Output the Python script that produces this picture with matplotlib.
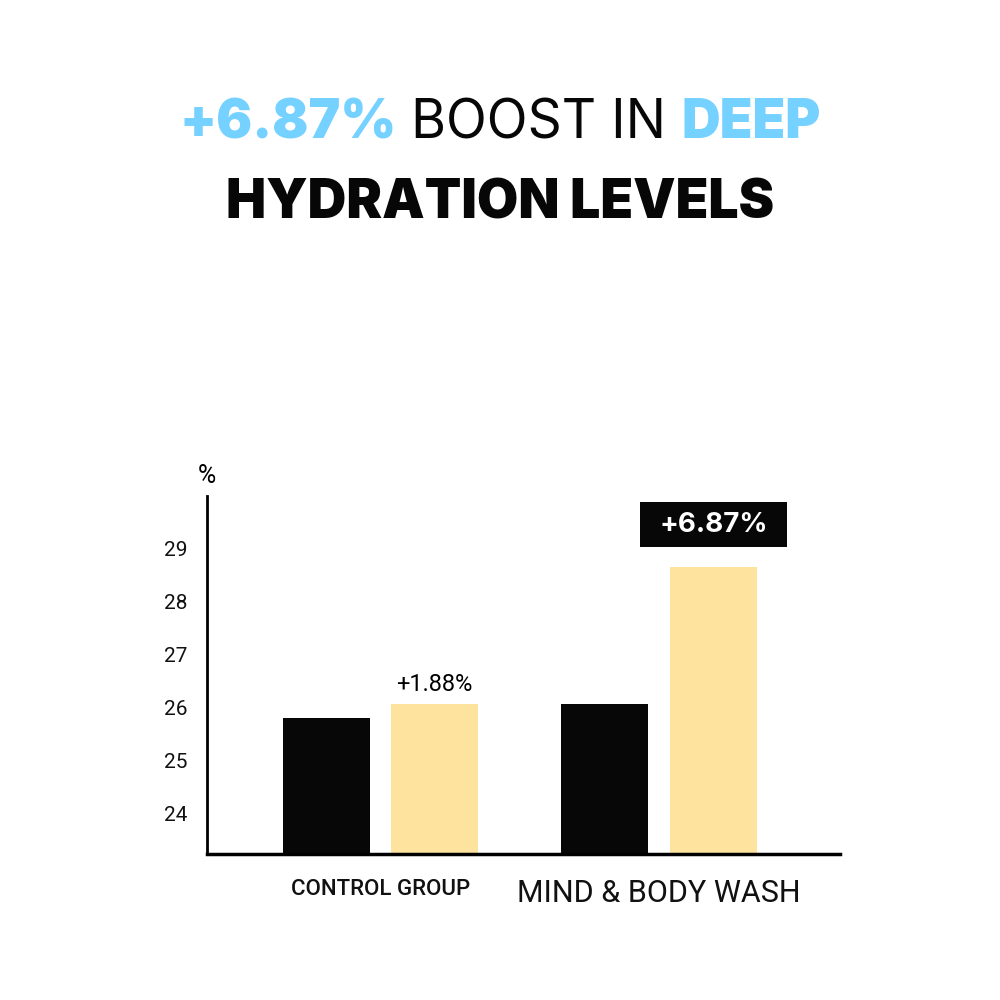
import matplotlib
matplotlib.use("Agg")
import matplotlib.pyplot as plt
from matplotlib.patches import Rectangle
import numpy as np

plt.rcParams["font.family"] = ["Roboto", "DejaVu Sans"]
TITLE_FONT = ["Inter", "Roboto", "DejaVu Sans"]

groups = ["CONTROL GROUP", "MIND & BODY WASH"]
before = [25.8, 26.06]
after = [26.06, 28.66]
labels = ["+1.88%", "+6.87%"]
yticks = [24, 25, 26, 27, 28, 29]

BLACK = "#070707"
YELLOW = "#FDE39D"
BLUE = "#75D1FF"

fig = plt.figure(figsize=(10, 10), dpi=100)
ax = fig.add_axes([0.207, 0.146, 0.633, 0.358])

x = np.arange(len(groups))
w = 0.312
off = 0.195
ax.bar(x - off, before, w, color=BLACK, zorder=2)
ax.bar(x + off, after, w, color=YELLOW, zorder=2)

ax.set_ylim(23.23, 30)
ax.set_xlim(-0.622, 1.649)
ax.set_yticks(yticks)
ax.set_yticklabels([str(t) for t in yticks], fontsize=15, color="#111111")
ax.tick_params(axis="y", length=0, pad=14)
ax.set_xticks(x)
ax.set_xticklabels(groups, color="#111111")
ax.tick_params(axis="x", length=0, pad=18)
tl = ax.get_xticklabels()
tl[0].set_fontsize(16)
tl[0].set_fontweight("medium")
tl[1].set_fontsize(22)

for s in ["top", "right"]:
    ax.spines[s].set_visible(False)
ax.spines["left"].set_linewidth(2)
ax.spines["bottom"].set_linewidth(2.5)

ax.text(0, 1.056, "%", transform=ax.transAxes, ha="center", va="center", fontsize=18)

# small label above control bar
ax.annotate(labels[0], (x[0] + off, after[0]), xytext=(0, 6), textcoords="offset points",
            ha="center", va="bottom", fontsize=17)

# boxed label above wash bar
bw, bh, gap = 0.527, 0.85, 0.38
ax.add_patch(Rectangle((x[1] + off - bw / 2, after[1] + gap), bw, bh,
                       facecolor=BLACK, edgecolor="none", clip_on=False, zorder=3))
ax.text(x[1] + off, after[1] + gap + bh / 2 - 0.02, labels[1], ha="center", va="center",
        fontsize=20, fontweight="bold", color="white", family=TITLE_FONT, zorder=4)

# title line 1 in mixed colours
parts = [("+6.87%", BLUE, "black"), (" BOOST IN ", BLACK, "normal"), ("DEEP", BLUE, "black")]
r = fig.canvas.get_renderer()
texts = []
for s, c, fw in parts:
    t = fig.text(0, 0.876, s, color=c, fontsize=38.5, fontweight=fw, family=TITLE_FONT,
                 ha="left", va="center")
    texts.append(t)
widths = [t.get_window_extent(r).width / fig.bbox.width for t in texts]
xpos = 0.5 - sum(widths) / 2
for t, wd in zip(texts, widths):
    t.set_x(xpos)
    xpos += wd

fig.text(0.5, 0.796, "HYDRATION LEVELS", color=BLACK, fontsize=38.5, fontweight="black",
         family=TITLE_FONT, ha="center", va="center")

fig.savefig("out.png", dpi=100, facecolor="white")
